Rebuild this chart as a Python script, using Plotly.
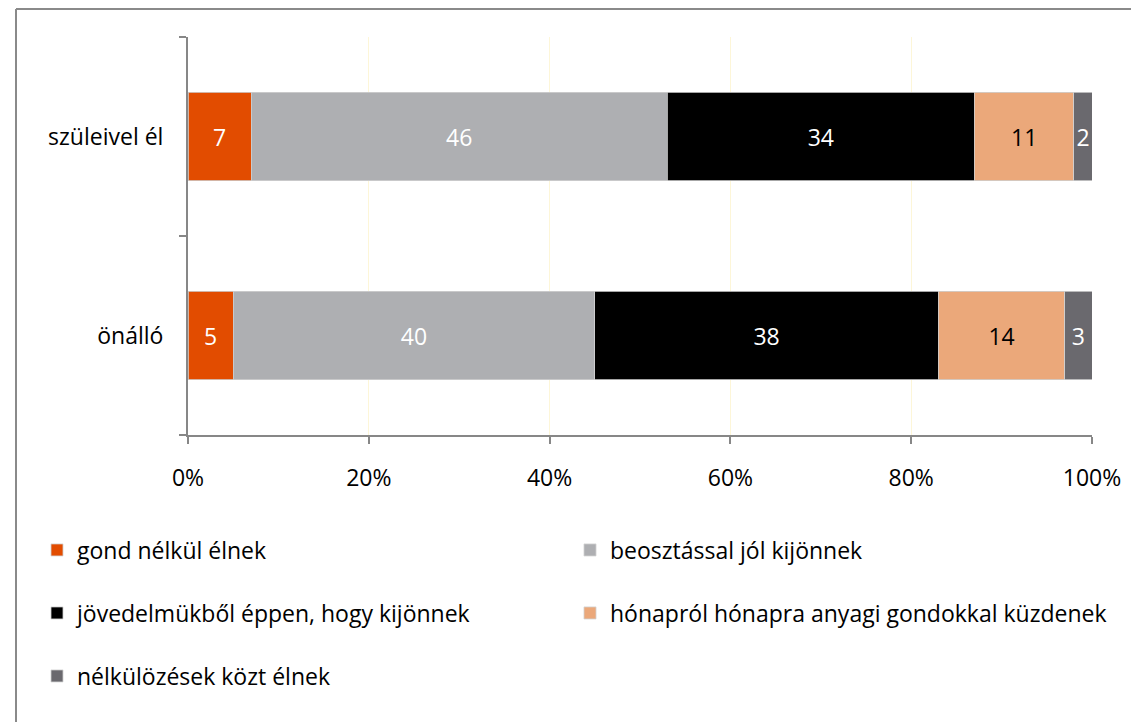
import plotly.graph_objects as go

categories = ["szüleivel él", "önálló"]
series_names = [
    "gond nélkül élnek",
    "beosztással jól kijönnek",
    "jövedelmükből éppen, hogy kijönnek",
    "hónapról hónapra anyagi gondokkal küzdenek",
    "nélkülözések közt élnek",
]
gond_nelkul = [7, 5]
beosztassal = [46, 40]
jovedelmukbol = [34, 38]
honaprol = [11, 14]
nelkulozesek = [2, 3]
series_values = [gond_nelkul, beosztassal, jovedelmukbol, honaprol, nelkulozesek]
x_ticks = [0, 20, 40, 60, 80, 100]

colors = ["#E24C00", "#AEAFB2", "#000000", "#EBA87A", "#6A696E"]
label_colors = ["white", "white", "white", "black", "white"]

FONT = "Open Sans"
FS = 23

# page offset (browser body margin)
OFF = 8
# plot area in page pixels
L, R, T, B = 188 - OFF, 1092 - OFF, 37 - OFF, 435 - OFF
W, H = 1139 - OFF, 722 - OFF
pw, ph = R - L, B - T


def px_x(x):
    return (x - OFF - L) / pw


def px_y(y):
    return (B - (y - OFF)) / ph


legend_pos = [(37, 550), (570, 550), (37, 613), (570, 613), (37, 676)]

fig = go.Figure()
legend_names = ["legend", "legend2", "legend3", "legend4", "legend5"]
for i, (name, vals) in enumerate(zip(series_names, series_values)):
    fig.add_trace(go.Bar(
        name=name,
        y=categories,
        x=vals,
        orientation="h",
        marker=dict(color=colors[i], line=dict(color="#D0D0D0", width=0.8)),
        text=[str(v) for v in vals],
        textposition="inside",
        insidetextanchor="middle",
        textfont=dict(color=label_colors[i], size=FS, family=FONT),
        texttemplate="%{text}",
        hoverinfo="skip",
        legend=legend_names[i],
    ))

layout_legends = {}
for i, ln in enumerate(legend_names):
    lx, ly = legend_pos[i]
    layout_legends[ln] = dict(
        x=px_x(lx), y=px_y(ly), xanchor="left", yanchor="middle",
        xref="paper", yref="paper",
        bgcolor="rgba(0,0,0,0)",
        font=dict(family=FONT, size=FS, color="black"),
        itemwidth=30,
    )

fig.update_layout(
    width=W, height=H,
    margin=dict(l=L, r=W - R, t=T, b=H - B),
    barmode="stack",
    bargap=0.553,
    plot_bgcolor="white",
    paper_bgcolor="white",
    font=dict(family=FONT, size=FS, color="black"),
    uniformtext=dict(minsize=FS, mode="show"),
    showlegend=True,
    **layout_legends,
)

fig.update_xaxes(
    range=[0, 100],
    tickvals=x_ticks,
    ticktext=[f"{v}%" for v in x_ticks],
    showgrid=True, gridcolor="#FDF6D8", gridwidth=1,
    showline=True, linecolor="#878787", linewidth=2,
    ticks="outside", ticklen=7, tickwidth=2, tickcolor="#878787",
    ticklabelstandoff=14,
    tickfont=dict(family=FONT, size=FS, color="black"),
    zeroline=False,
    fixedrange=True,
)
fig.update_yaxes(
    categoryorder="array",
    categoryarray=categories[::-1],
    showgrid=False,
    showline=True, linecolor="#878787", linewidth=2,
    ticks="outside", ticklen=7, tickwidth=2, tickcolor="#878787",
    tickson="boundaries",
    ticklabelstandoff=18,
    tickfont=dict(family=FONT, size=FS, color="black"),
    zeroline=False,
    fixedrange=True,
)

# outer frame (top and left edges)
fig.add_shape(type="line", xref="paper", yref="paper",
              x0=px_x(16), x1=px_x(1139 + 5), y0=px_y(9), y1=px_y(9),
              line=dict(color="#8A8A8A", width=2))
fig.add_shape(type="line", xref="paper", yref="paper",
              x0=px_x(16), x1=px_x(16), y0=px_y(9), y1=px_y(722 + 5),
              line=dict(color="#8A8A8A", width=2))

fig.write_html("out.html")
